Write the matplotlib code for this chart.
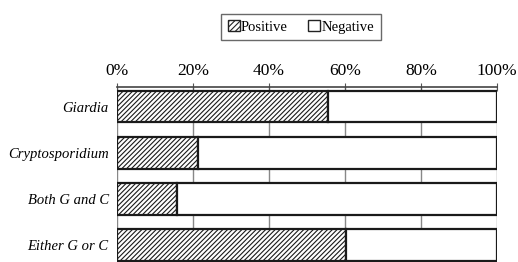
import numpy as np
import matplotlib.pyplot as plt
from matplotlib.patches import Patch

# data (percent)
categories = ["Giardia", "Cryptosporidium", "Both G and C", "Either G or C"]
positive = [55.5, 21.3, 15.8, 60.2]
negative = [100 - p for p in positive]
xticks = [0, 20, 40, 60, 80, 100]

plt.rcParams['font.family'] = ['Liberation Serif', 'DejaVu Serif']
plt.rcParams['hatch.linewidth'] = 0.8

fig = plt.figure(figsize=(5.18, 2.62), dpi=100)
ax = fig.add_axes([117 / 518, 0.0, 380 / 518, 1 - 87 / 262])

y = np.arange(len(categories))
ax.barh(y, positive, height=0.68, color="white", edgecolor="#1a1a1a",
        hatch="///////", linewidth=1.6, zorder=3)
ax.barh(y, negative, left=positive, height=0.68, color="white",
        edgecolor="#1a1a1a", linewidth=1.6, zorder=3)

ax.set_xlim(0, 100)
ax.set_ylim(3.37, -0.43)
ax.set_yticks(y)
ax.set_yticklabels(categories, fontstyle="italic", fontsize=10.5)
ax.set_xticks(xticks)
ax.set_xticklabels([f"{t}%" for t in xticks], fontsize=12.5)
ax.xaxis.tick_top()
ax.tick_params(axis="x", direction="inout", length=6, color="#555555", pad=3)
ax.tick_params(axis="y", length=0, pad=6)

for s in ["bottom", "left", "right"]:
    ax.spines[s].set_visible(False)
ax.spines["top"].set_color("#444444")
ax.spines["top"].set_linewidth(1.2)

for t in xticks:
    ax.axvline(t, color="#888888", linewidth=1.0, zorder=1)

handles = [Patch(facecolor="white", edgecolor="#222222", hatch="//////", label="Positive"),
           Patch(facecolor="white", edgecolor="#222222", label="Negative")]
fig.legend(handles=handles, loc="center", bbox_to_anchor=(301 / 518, 1 - 27 / 262),
           ncol=2, fontsize=10.5, frameon=True, fancybox=False, edgecolor="#444444",
           handlelength=0.8, handleheight=0.8, handletextpad=0.1, columnspacing=1.4,
           borderpad=0.45)

fig.savefig("out.png", dpi=100)
